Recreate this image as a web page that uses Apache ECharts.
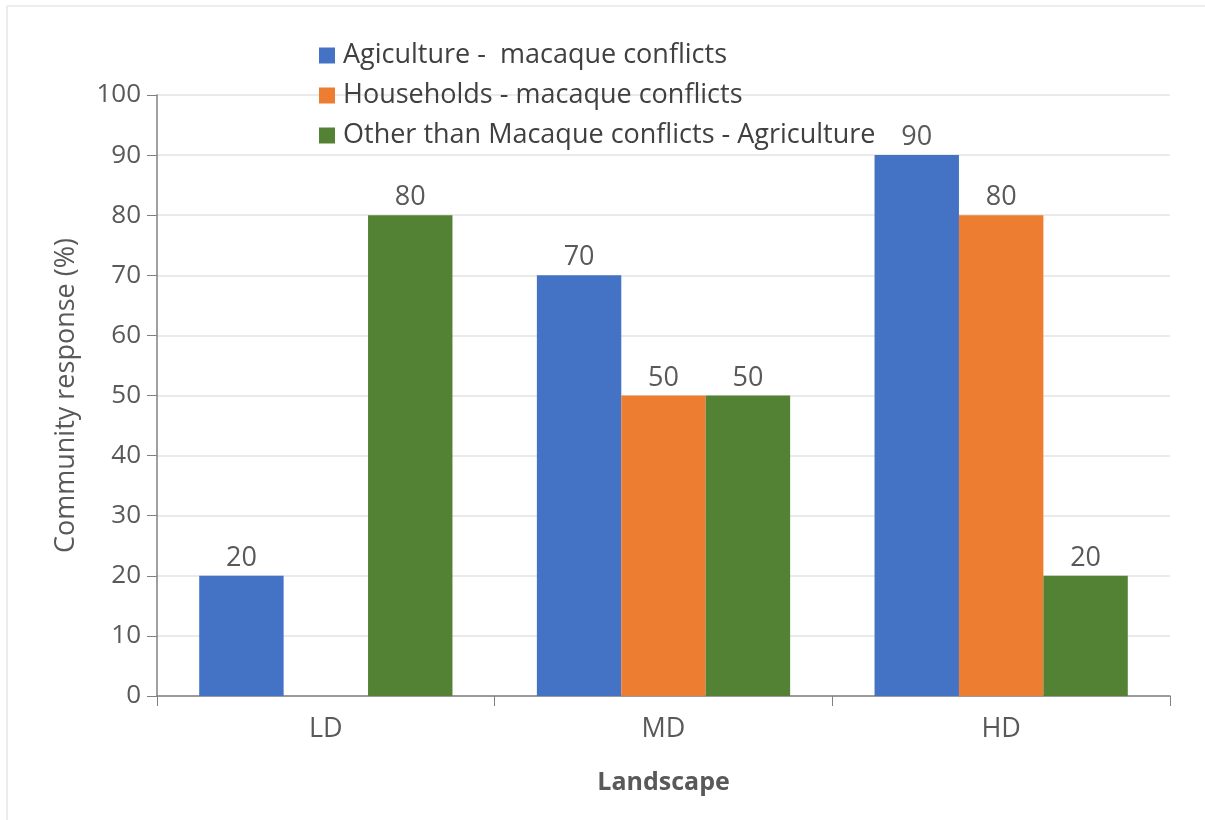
<!DOCTYPE html>
<html>
<head>
<meta charset="utf-8">
<script src="https://cdn.jsdelivr.net/npm/echarts@6/dist/echarts.min.js"></script>
<style>
  html, body { margin: 0; padding: 0; background: #ffffff; }
  #chart { width: 1205px; height: 820px; }
</style>
</head>
<body>
<div id="chart"></div>
<script>
// Landscape categories and community responses (%)
const categories = ['LD', 'MD', 'HD'];
const agricultureMacaque = [20, 70, 90];
const householdsMacaque = [null, 50, 80];
const otherThanMacaque = [80, 50, 20];
const seriesNames = [
  'Agiculture -  macaque conflicts',
  'Households - macaque conflicts',
  'Other than Macaque conflicts - Agriculture'
];
const yTicks = [0, 10, 20, 30, 40, 50, 60, 70, 80, 90, 100];

const FONT = '"Open Sans", "Noto Sans", sans-serif';
const TEXT_GRAY = '#595959';

const chart = echarts.init(document.getElementById('chart'), null, { renderer: 'canvas' });

const labelStyle = {
  show: true,
  position: 'top',
  distance: 4,
  color: TEXT_GRAY,
  fontFamily: FONT,
  fontSize: 27
};

function makeSeries(name, data, color) {
  return {
    name: name,
    type: 'bar',
    data: data,
    barGap: '0%',
    barCategoryGap: '25%',
    itemStyle: { color: color },
    label: labelStyle
  };
}

chart.setOption({
  animation: false,
  textStyle: { fontFamily: FONT },
  graphic: [
    { type: 'line', shape: { x1: 7, y1: 6, x2: 1205, y2: 6 }, style: { stroke: '#ececec', lineWidth: 2 } },
    { type: 'line', shape: { x1: 7, y1: 6, x2: 7, y2: 820 }, style: { stroke: '#ececec', lineWidth: 2 } }
  ],
  legend: {
    orient: 'vertical',
    left: 314,
    top: 37,
    itemWidth: 16,
    itemHeight: 16,
    itemGap: 13,
    icon: 'rect',
    textStyle: { color: '#404040', fontFamily: FONT, fontSize: 27, padding: [0, 0, 0, 3] },
    data: seriesNames
  },
  grid: { left: 157, right: 35, top: 95, bottom: 124 },
  xAxis: {
    type: 'category',
    data: categories,
    name: 'Landscape',
    nameLocation: 'middle',
    nameGap: 74,
    nameTextStyle: { color: TEXT_GRAY, fontFamily: FONT, fontSize: 25, fontWeight: 'bold' },
    axisLine: { lineStyle: { color: '#808080', width: 1.5 } },
    axisTick: { show: true, length: 10, lineStyle: { color: '#808080' } },
    axisLabel: { color: TEXT_GRAY, fontFamily: FONT, fontSize: 27, margin: 20 }
  },
  yAxis: {
    type: 'value',
    min: 0,
    max: 100,
    interval: 10,
    name: 'Community response (%)',
    nameLocation: 'middle',
    nameGap: 77,
    nameTextStyle: { color: TEXT_GRAY, fontFamily: FONT, fontSize: 27 },
    axisLine: { show: true, lineStyle: { color: '#808080', width: 1.5 } },
    axisTick: { show: true, length: 10, lineStyle: { color: '#808080' } },
    axisLabel: {
      color: TEXT_GRAY, fontFamily: FONT, fontSize: 26, margin: 16,
      formatter: v => (yTicks.indexOf(v) >= 0 ? String(v) : '')
    },
    splitLine: { lineStyle: { color: '#e3e3e3', width: 1.5 } }
  },
  series: [
    makeSeries(seriesNames[0], agricultureMacaque, '#4472C4'),
    makeSeries(seriesNames[1], householdsMacaque, '#ED7D31'),
    makeSeries(seriesNames[2], otherThanMacaque, '#548235')
  ]
});
</script>
</body>
</html>
